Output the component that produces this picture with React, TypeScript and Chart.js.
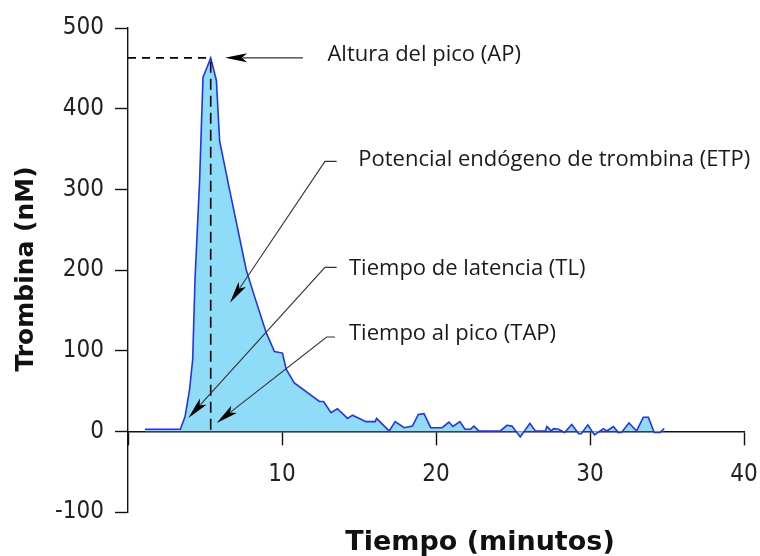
import React, { useEffect, useRef } from 'react';
import { Chart, registerables } from 'chart.js';

Chart.register(...registerables);

// Thrombin generation curve (calibrated automated thrombogram)
const timeMinutes = [
  1.1, 3.4, 3.7, 4.0, 4.2, 4.35, 4.65, 4.87, 5.13, 5.37, 5.74, 5.95, 6.6, 7.68, 8.22, 8.98, 9.51,
  10.03, 10.27, 10.8, 12.43, 12.7, 13.18, 13.6, 14.26, 14.58, 15.45, 16.05, 16.14, 16.96, 17.35,
  17.93, 18.47, 18.85, 19.22, 19.66, 20.4, 20.84, 21.1, 21.55, 21.88, 22.24, 22.46, 22.78, 24.18,
  24.6, 24.93, 25.47, 26.1, 26.45, 27.1, 27.2, 27.48, 27.64, 27.96, 28.35, 28.82, 29.26, 29.43,
  29.86, 30.29, 30.87, 31.09, 31.52, 31.84, 32.06, 32.53, 33.03, 33.46, 33.79, 34.17, 34.54, 34.82,
];
const thrombinNM = [
  2.5, 2.5, 18, 52, 89, 188, 311, 439, 451, 463, 435, 360, 299, 200, 167, 122, 99,
  97, 77, 60, 37, 37, 23, 28, 16, 20, 12, 12, 16, 0.5, 12,
  4.5, 6.5, 21, 22, 4.5, 4.5, 11.5, 6, 12, 2.5, 2.5, 6.5, 0.5, 0.5,
  7.5, 6.5, -7, 10, 0.5, 0.5, 6, 0.5, 3.3, 2.5, -1.5, 8.5, -3, -3,
  8, -4.5, 3.3, 0.5, 6, -1.5, -1, 10.5, 0.5, 17.5, 17.5, -1.5, -1.5, 3.5,
];

const xTickValues = [0, 10, 20, 30, 40];
const xTickLabels = ['', '10', '20', '30', '40'];
const yTickValues = [-100, 0, 100, 200, 300, 400, 500];
const yTickLabels = ['-100', '0', '100', '200', '300', '400', '500'];

const xAxisTitle = 'Tiempo (minutos)';
const yAxisTitle = 'Trombina (nM)';
const calloutTexts = [
  'Altura del pico (AP)',
  'Potencial endógeno de trombina (ETP)',
  'Tiempo de latencia (TL)',
  'Tiempo al pico (TAP)',
];

// Callout geometry in data units [minutes, nM]: text anchor, leader path ending at the arrow tip
const calloutLayout = [
  { text: [12.95, 459], path: [[11.36, 'peak'], [6.3, 'peak']] },
  { text: [14.95, 328.5], path: [[13.55, 334.7], [12.79, 334.7], [6.62, 159.5]] },
  { text: [14.35, 194.3], path: [[13.55, 203.3], [12.79, 203.3], [3.92, 16.6]] },
  { text: [14.35, 113.7], path: [[13.44, 117], [12.9, 117], [5.76, 10.4]] },
];

const LABEL_FONT = '"DejaVu Sans Condensed", "DejaVu Sans", sans-serif';
const TITLE_FONT = '"DejaVu Sans", sans-serif';
const NOTE_FONT = '"Open Sans", sans-serif';

function drawArrow(ctx: CanvasRenderingContext2D, pts: number[][]) {
  const n = pts.length;
  const [tx, ty] = pts[n - 1];
  const [sx, sy] = pts[n - 2];
  const len = Math.hypot(tx - sx, ty - sy);
  const ux = (tx - sx) / len;
  const uy = (ty - sy) / len;
  const headLen = 22;
  const headHalf = 4.5;
  const bx = tx - ux * headLen;
  const by = ty - uy * headLen;

  ctx.save();
  ctx.strokeStyle = '#333333';
  ctx.lineWidth = 1.1;
  ctx.setLineDash([]);
  ctx.beginPath();
  ctx.moveTo(pts[0][0], pts[0][1]);
  for (let i = 1; i < n - 1; i++) ctx.lineTo(pts[i][0], pts[i][1]);
  ctx.lineTo(bx + ux * 4, by + uy * 4);
  ctx.stroke();

  ctx.fillStyle = '#000000';
  ctx.beginPath();
  ctx.moveTo(tx, ty);
  ctx.lineTo(bx - uy * headHalf, by + ux * headHalf);
  ctx.lineTo(bx + ux * 5, by + uy * 5);
  ctx.lineTo(bx + uy * headHalf, by - ux * headHalf);
  ctx.closePath();
  ctx.fill();
  ctx.restore();
}

const calloutPlugin = {
  id: 'thrombogramCallouts',
  afterDatasetsDraw(chart: any) {
    const { ctx, scales } = chart;
    const xs = scales.x;
    const ys = scales.y;
    let peakIdx = 0;
    thrombinNM.forEach((v, i) => {
      if (v > thrombinNM[peakIdx]) peakIdx = i;
    });
    const peakT = timeMinutes[peakIdx];
    const peakV = thrombinNM[peakIdx];
    const px = (t: number) => xs.getPixelForValue(t);
    const py = (v: any) => ys.getPixelForValue(v === 'peak' ? peakV : v);

    // peak height and time-to-peak guides
    ctx.save();
    ctx.strokeStyle = '#000000';
    ctx.lineWidth = 1.6;
    ctx.setLineDash([8, 6]);
    ctx.beginPath();
    ctx.moveTo(xs.left, py(peakV));
    ctx.lineTo(px(peakT), py(peakV));
    ctx.stroke();
    ctx.setLineDash([11, 6]);
    ctx.beginPath();
    ctx.moveTo(px(peakT), py(peakV) + 4);
    ctx.lineTo(px(peakT), py(0));
    ctx.stroke();
    ctx.restore();

    calloutLayout.forEach((c, i) => {
      const pts = c.path.map(([t, v]) => [px(t as number), py(v)]);
      drawArrow(ctx, pts);
      ctx.save();
      ctx.font = `22px ${NOTE_FONT}`;
      ctx.fillStyle = '#1a1a1a';
      ctx.textAlign = 'left';
      ctx.textBaseline = 'alphabetic';
      ctx.fillText(calloutTexts[i], px(c.text[0]), py(c.text[1]));
      ctx.restore();
    });
  },
  afterDraw(chart: any) {
    const { ctx, chartArea } = chart;
    ctx.save();
    ctx.fillStyle = '#111111';
    ctx.textAlign = 'center';
    ctx.textBaseline = 'alphabetic';
    ctx.font = `bold 27px ${TITLE_FONT}`;
    ctx.fillText(xAxisTitle, chartArea.left + 352, chartArea.bottom + 38);
    ctx.font = `bold 25px ${TITLE_FONT}`;
    ctx.translate(33, chartArea.top + 241);
    ctx.rotate(-Math.PI / 2);
    ctx.fillText(yAxisTitle, 0, 0);
    ctx.restore();
  },
};

export default function App() {
  const canvasRef = useRef<HTMLCanvasElement | null>(null);

  useEffect(() => {
    if (!canvasRef.current) return;
    const chart = new Chart(canvasRef.current, {
      type: 'line',
      data: {
        datasets: [
          {
            label: 'Trombina',
            data: timeMinutes.map((t, i) => ({ x: t, y: thrombinNM[i] })),
            borderColor: '#2233ee',
            borderWidth: 1.6,
            backgroundColor: '#8edcf8',
            fill: 'origin',
            pointRadius: 0,
            tension: 0,
          },
        ],
      },
      options: {
        animation: false,
        responsive: true,
        maintainAspectRatio: false,
        layout: { padding: { left: 0, right: 16, top: 28, bottom: 44 } },
        plugins: {
          legend: { display: false },
          tooltip: { enabled: false },
        },
        scales: {
          x: {
            type: 'linear',
            min: 0,
            max: 40,
            position: { y: 0 } as any,
            afterBuildTicks: (s: any) => {
              s.ticks = xTickValues.map((v) => ({ value: v }));
            },
            afterFit: (s: any) => {
              s.paddingLeft = 0;
              s.paddingRight = 0;
              s.paddingTop = 0;
              s.paddingBottom = 0;
            },
            ticks: {
              autoSkip: false,
              maxRotation: 0,
              padding: 16,
              color: '#222222',
              font: { family: LABEL_FONT, size: 24 },
              callback: (_v: any, i: number) => xTickLabels[i],
            },
            grid: {
              drawOnChartArea: false,
              drawTicks: true,
              tickLength: 13,
              tickWidth: 1.4,
              tickColor: '#111111',
            },
            border: { display: true, color: '#111111', width: 1.4 },
          },
          y: {
            type: 'linear',
            min: -100,
            max: 500,
            afterFit: (s: any) => {
              s.width = 128;
              s.paddingTop = 0;
              s.paddingBottom = 0;
            },
            afterBuildTicks: (s: any) => {
              s.ticks = yTickValues.map((v) => ({ value: v }));
            },
            ticks: {
              autoSkip: false,
              padding: 11,
              color: '#222222',
              font: { family: LABEL_FONT, size: 24 },
              callback: (_v: any, i: number) => yTickLabels[i],
            },
            grid: {
              drawOnChartArea: false,
              drawTicks: true,
              tickLength: 13,
              tickWidth: 1.4,
              tickColor: '#111111',
            },
            border: { display: true, color: '#111111', width: 1.4 },
          },
        },
      },
      plugins: [calloutPlugin],
    });
    return () => chart.destroy();
  }, []);

  return (
    <div style={{ position: 'absolute', left: 0, top: 0, width: 760, height: 556, background: '#ffffff' }}>
      <canvas ref={canvasRef} />
    </div>
  );
}
